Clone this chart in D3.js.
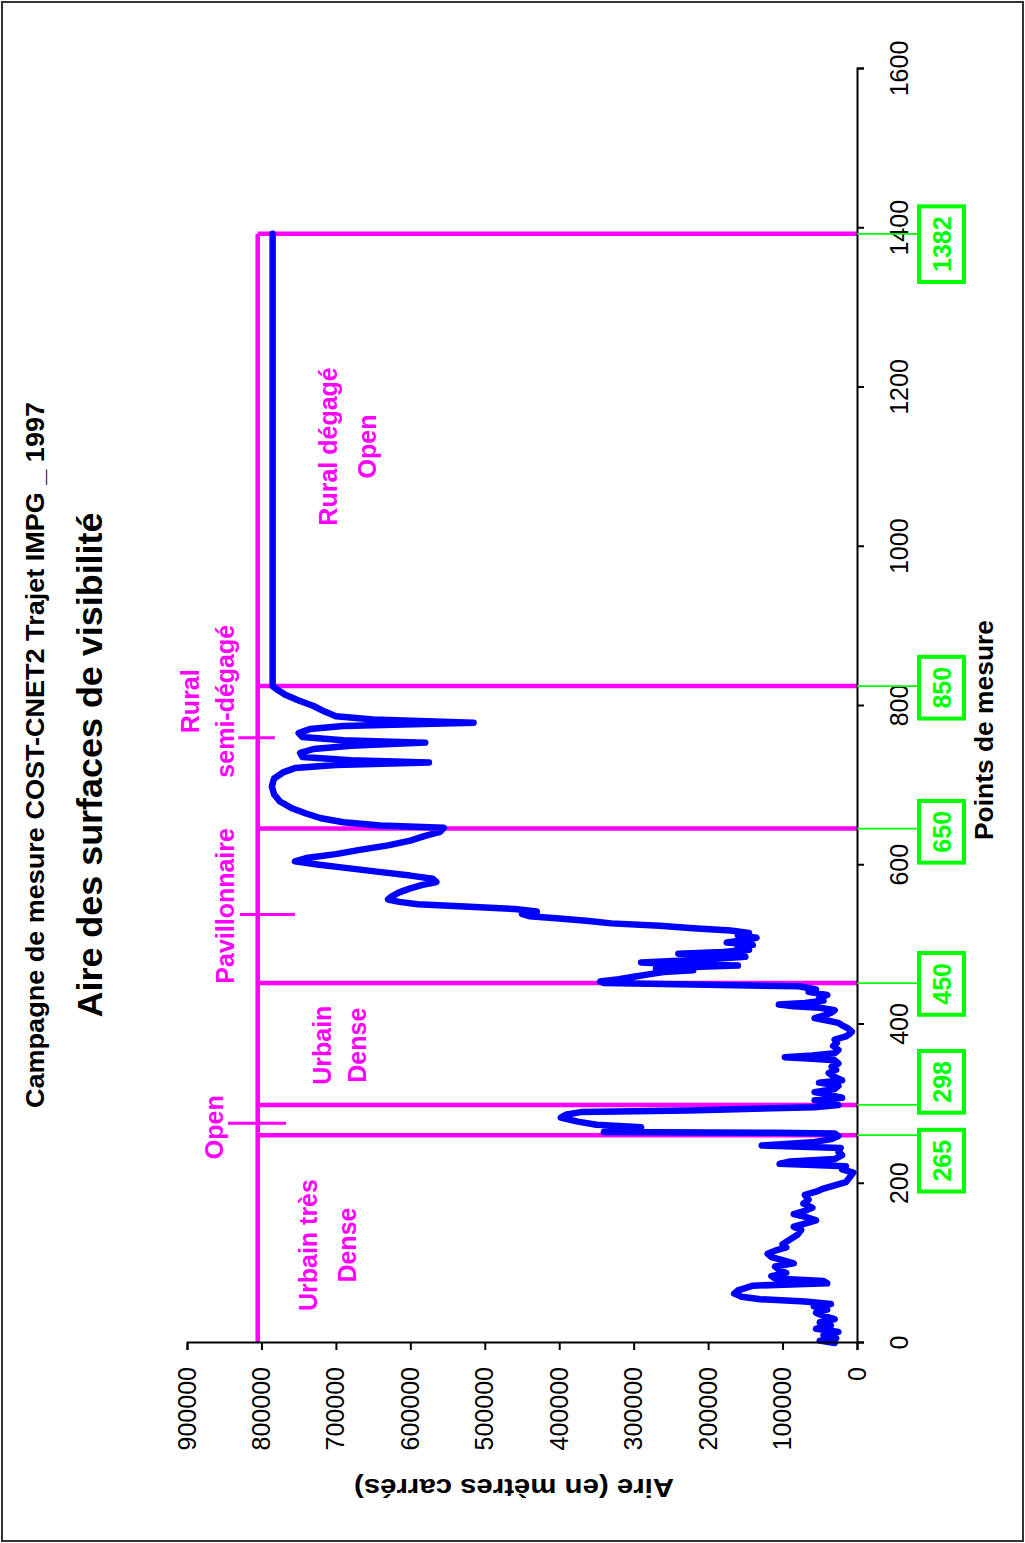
<!DOCTYPE html>
<html><head><meta charset="utf-8">
<script src="https://cdn.jsdelivr.net/npm/d3@7"></script>
<style>body{margin:0;background:#fff}svg{display:block}</style>
</head><body>
<script>
// ---------------- DATA ----------------
const titleLine1 = "Campagne de mesure COST-CNET2 Trajet IMPG _ 1997";
const titleLine2 = "Aire des surfaces de visibilité";
const xTitle = "Points de mesure";
const yTitle = "Aire (en mètres carrés)";
const xTicks = [0, 200, 400, 600, 800, 1000, 1200, 1400, 1600];
const yTicks = [0, 100000, 200000, 300000, 400000, 500000, 600000, 700000, 800000, 900000];

const pointIdx = [
  0,3,6,10,14,18,22,26,30,34,38,42,46,49,52,55,58,62,66,69,72,75,78,81,84,88,92,96,100,104,108,112,116,120,124,130,136,142,146,150,154,158,162,166,170,175,180,186,190,194,198,202,208,214,218,222,225,228,231,236,240,245,248,252,256,260,
  263,264,265,268,271,274,278,283,287,290,292,294,296,299,
  302,305,308,311,315,319,323,327,330,334,339,343,347,351,355,357,359,361,364,368,373,377,381,385,388,391,395,399,402,405,408,411,415,418,421,423,425,427,430,433,437,441,444,448,
  452,454,457,460,463,466,468,470,472,474,476,478,480,482,485,487,489,491,494,497,500,503,506,509,512,515,518,521,524,527,530,533,536,539,542,545,548,551,554,557,561,566,571,575,579,583,587,592,597,601,605,609,614,619,625,631,637,642,647,
  650,654,659,665,672,680,689,699,709,717,722,726,729,732,736,741,746,750,754,757,761,766,771,775,779,783,787,793,800,807,814,820,825,1393
];
const area = [
  30000,50000,28000,45000,25000,55000,35000,50000,30000,45000,55000,40000,58000,35000,70000,130000,155000,165000,160000,150000,140000,40000,45000,110000,115000,95000,105000,110000,85000,100000,115000,120000,110000,95000,100000,90000,80000,75000,85000,70000,55000,68000,85000,70000,60000,72000,65000,70000,55000,45000,30000,15000,10000,5000,20000,15000,104000,90000,30000,20000,25000,22000,128000,60000,35000,25000,
  30000,110000,340000,300000,290000,350000,375000,398000,390000,371000,226000,150000,57000,25000,
  40000,57000,20000,35000,57000,30000,25000,51000,20000,30000,38000,28000,34000,25000,30000,60000,97000,60000,30000,25000,32000,27000,30000,15000,10000,7000,12000,20000,25000,40000,57000,45000,34000,30000,50000,85000,105000,70000,45000,51000,40000,65000,55000,78000,
  340000,345000,320000,300000,280000,260000,220000,270000,230000,160000,250000,290000,240000,200000,150000,200000,240000,180000,145000,160000,140000,175000,150000,135000,160000,145000,170000,220000,265000,330000,360000,400000,440000,450000,430000,460000,520000,590000,615000,630000,625000,615000,600000,585000,565000,570000,600000,645000,690000,725000,755000,740000,700000,670000,630000,600000,580000,560000,555000,
  640000,690000,720000,740000,760000,775000,783000,786000,783000,770000,755000,700000,575000,680000,745000,748000,730000,680000,580000,690000,745000,750000,735000,690000,515000,650000,700000,715000,730000,750000,768000,778000,785000,785000
];

const boundaryPos = [261, 299, 452, 646, 825, 1393];
const boundaryLabels = ["265", "298", "450", "650", "850", "1382"];
const zoneLevel = 805000;
const zoneNames = [["Urbain très", "Dense"], ["Open"], ["Urbain", "Dense"], ["Pavillonnaire"], ["Rural", "semi-dégagé"], ["Rural dégagé", "Open"]];
const zoneMarkerPos = [276, 538, 760];

// ---------------- LAYOUT ----------------
const W = 1025, H = 1543;
const FONT = "'Liberation Sans', Arial, Helvetica, sans-serif";
const MAGENTA = "#ff00ff", BLUE = "#0000ff", GREEN = "#00ff00";
const labelAnchors = [229, 328, 451, 642, 823, 1380];
const zoneLabelLayout = [
  {pt: 123, v: [737000, 685000]},
  {pt: 271, v: [864000]},
  {pt: 374, v: [719000, 672000]},
  {pt: 549, v: [849000]},
  {pt: 806, v: [896000, 849000]},
  {pt: 1126, v: [711000, 658000]}
];
const markerSpan = [[845000, 767000], [829000, 755000], [831000, 782000]];

const svg = d3.select("body").append("svg").attr("width", W).attr("height", H);
svg.append("rect").attr("x", 2).attr("y", 2).attr("width", W - 4).attr("height", H - 4)
  .attr("fill", "#fff").attr("stroke", "#333").attr("stroke-width", 2);

// chart drawn in its natural orientation, then turned a quarter turn counter-clockwise
const g = svg.append("g").attr("transform", `translate(0,${H}) rotate(-90)`);

const x = d3.scaleLinear().domain([0, 1600]).range([200, 1474]);
const y = d3.scaleLinear().domain([0, 900000]).range([857, 187]);

// titles
g.append("text").attr("x", 788).attr("y", 44).attr("text-anchor", "middle")
  .attr("font-family", FONT).attr("font-weight", "bold").attr("font-size", 25)
  .attr("textLength", 706).attr("lengthAdjust", "spacingAndGlyphs").text(titleLine1);
g.append("text").attr("x", 778).attr("y", 102).attr("text-anchor", "middle")
  .attr("font-family", FONT).attr("font-weight", "bold").attr("font-size", 35)
  .attr("textLength", 505).attr("lengthAdjust", "spacingAndGlyphs").text(titleLine2);

// zone frame (magenta)
const xMax = boundaryPos[boundaryPos.length - 1];
g.append("line").attr("x1", x(0)).attr("x2", x(xMax)).attr("y1", y(zoneLevel)).attr("y2", y(zoneLevel))
  .attr("stroke", MAGENTA).attr("stroke-width", 4.5);
g.selectAll("line.bnd").data(boundaryPos).join("line").attr("class", "bnd")
  .attr("x1", d => x(d)).attr("x2", d => x(d)).attr("y1", y(0)).attr("y2", y(zoneLevel))
  .attr("stroke", MAGENTA).attr("stroke-width", 4.5);
g.selectAll("line.mk").data(zoneMarkerPos).join("line").attr("class", "mk")
  .attr("x1", d => x(d)).attr("x2", d => x(d))
  .attr("y1", (d, i) => y(markerSpan[i][0])).attr("y2", (d, i) => y(markerSpan[i][1]))
  .attr("stroke", MAGENTA).attr("stroke-width", 3);

// data line
const pts = pointIdx.map((p, i) => [p, area[i]]);
g.append("path").datum(pts)
  .attr("d", d3.line().x(d => x(d[0])).y(d => y(d[1])))
  .attr("fill", "none").attr("stroke", BLUE).attr("stroke-width", 6.5)
  .attr("stroke-linejoin", "round").attr("stroke-linecap", "round");

// axes
const xAxis = d3.axisBottom(x).tickValues(xTicks).tickSize(7).tickPadding(26).tickFormat(d3.format("d"));
const yAxis = d3.axisLeft(y).tickValues(yTicks).tickSize(7).tickPadding(17).tickFormat(d3.format("d"));
const gx = g.append("g").attr("transform", `translate(0,${y(0)})`).call(xAxis);
const gy = g.append("g").attr("transform", `translate(${x(0)},0)`).call(yAxis);
[gx, gy].forEach(a => {
  a.selectAll("path, line").attr("stroke", "#000").attr("stroke-width", 2);
  a.selectAll("text").attr("font-family", FONT).attr("font-size", 25).attr("fill", "#000");
});

// axis titles
g.append("text").attr("x", 813).attr("y", 993).attr("text-anchor", "middle")
  .attr("font-family", FONT).attr("font-weight", "bold").attr("font-size", 26)
  .attr("textLength", 220).attr("lengthAdjust", "spacingAndGlyphs").text(xTitle);
g.append("text").attr("transform", `translate(64,${(y(0) + y(900000)) / 2 - 8}) rotate(-90)`)
  .attr("text-anchor", "middle")
  .attr("font-family", FONT).attr("font-weight", "bold").attr("font-size", 25)
  .attr("textLength", 320).attr("lengthAdjust", "spacingAndGlyphs").text(yTitle);

// boundary value tags (green)
const tagTop = 919, tagH = 45;
boundaryPos.forEach((b, i) => {
  g.append("line").attr("x1", x(b)).attr("x2", x(b)).attr("y1", y(0)).attr("y2", tagTop)
    .attr("stroke", GREEN).attr("stroke-width", 1.8);
  const t = g.append("text").attr("x", x(labelAnchors[i])).attr("y", tagTop + tagH / 2)
    .attr("text-anchor", "middle").attr("dominant-baseline", "central")
    .attr("font-family", FONT).attr("font-weight", "bold").attr("font-size", 25)
    .attr("fill", GREEN).text(boundaryLabels[i]);
  const w = t.node().getComputedTextLength() + 20;
  g.insert("rect", () => t.node())
    .attr("x", x(labelAnchors[i]) - w / 2).attr("y", tagTop).attr("width", w).attr("height", tagH)
    .attr("fill", "#fff").attr("stroke", GREEN).attr("stroke-width", 4);
});

// zone names (magenta)
zoneNames.forEach((lines, i) => {
  lines.forEach((ln, j) => {
    g.append("text").attr("x", x(zoneLabelLayout[i].pt)).attr("y", y(zoneLabelLayout[i].v[j]))
      .attr("text-anchor", "middle").attr("dominant-baseline", "central")
      .attr("font-family", FONT).attr("font-weight", "bold").attr("font-size", 25)
      .attr("fill", MAGENTA).text(ln);
  });
});
</script>
</body></html>
